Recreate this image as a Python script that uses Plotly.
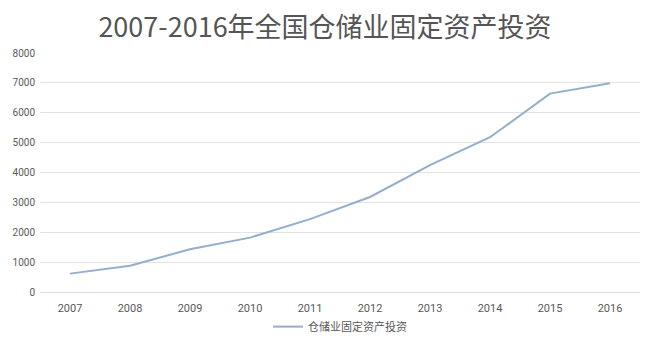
import plotly.graph_objects as go

years = ["2007", "2008", "2009", "2010", "2011", "2012", "2013", "2014", "2015", "2016"]
investment = [615, 880, 1430, 1820, 2440, 3180, 4250, 5180, 6640, 6990]
series_name = "仓储业固定资产投资"
title = "2007-2016年全国仓储业固定资产投资"

font_cjk = "Noto Sans CJK SC, Noto Sans, sans-serif"

fig = go.Figure()
fig.add_trace(go.Scatter(
    x=years, y=investment, mode="lines", name=series_name,
    line=dict(color="#94AECB", width=2),
))

fig.update_layout(
    width=650, height=342,
    margin=dict(l=40, r=10, t=53, b=50, autoexpand=False),
    paper_bgcolor="white", plot_bgcolor="white",
    title=dict(text=title, x=0.5, xanchor="center", y=0.918, yanchor="middle",
               font=dict(family=font_cjk, size=27, color="#555555")),
    showlegend=True,
    legend=dict(orientation="h", x=0.5, xanchor="center", yref="container",
                y=0.045, yanchor="middle",
                font=dict(family=font_cjk, size=11, color="#595959"),
                itemwidth=30),
    xaxis=dict(type="category", range=[-0.5, 9.5], showgrid=False, zeroline=False,
               showline=False, ticks="", ticklabelstandoff=8,
               tickfont=dict(family="Roboto, sans-serif", size=11, color="#595959")),
    yaxis=dict(range=[0, 8000], dtick=1000, showgrid=True, gridcolor="#E3E3E3",
               gridwidth=1, zeroline=True, zerolinecolor="#D9D9D9", zerolinewidth=1,
               showline=False, ticks="", ticklabelstandoff=4,
               tickfont=dict(family="Roboto, sans-serif", size=10, color="#595959")),
)

fig.write_html("out.html")
